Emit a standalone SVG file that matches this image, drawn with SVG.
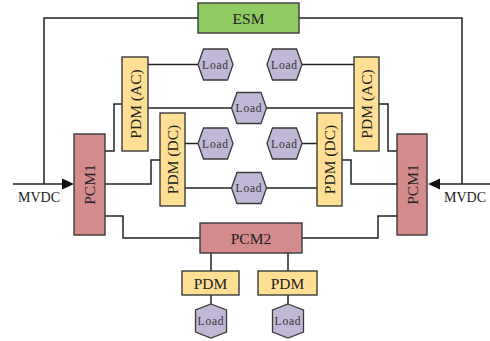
<svg xmlns="http://www.w3.org/2000/svg" width="490" height="341" viewBox="0 0 490 341">
  <defs>
    <style>
      .wire { fill: none; stroke: #222; stroke-width: 1.5; }
      .box { stroke: #3a3a3a; stroke-width: 1.4; }
      .esm { fill: #8fcb63; }
      .pcm { fill: #d48b8b; }
      .pdm { fill: #ffdf94; }
      .load { fill: #c1b7d7; stroke: #3a3a3a; stroke-width: 1.3; }
      .lbl { font-family: "Liberation Serif", "Times New Roman", serif; font-size: 15.5px; fill: #222; text-anchor: middle; dominant-baseline: central; }
      .lt { font-family: "Liberation Serif", "Times New Roman", serif; font-size: 11.5px; letter-spacing: 0.8px; fill: #333; text-anchor: middle; dominant-baseline: central; }
      .mv { font-family: "Liberation Serif", "Times New Roman", serif; font-size: 14px; fill: #222; text-anchor: middle; }
    </style>
    <!-- flat-sided load hexagon, pointing left/right -->
    <polygon id="hexH" points="-17.5,0 -12,-15.5 12,-15.5 17.5,0 12,15.5 -12,15.5"/>
    <!-- load hexagon standing on a point -->
    <polygon id="hexV" points="0,-17 15.5,-11 15.5,11 0,17 -15.5,11 -15.5,-11"/>
  </defs>

  <!-- connectors -->
  <g id="connectors">
    <polyline class="wire" points="198,18 44,18 44,184"/>
    <polyline class="wire" points="299,18 462,18 462,184"/>
    <line class="wire" x1="13" y1="184" x2="64" y2="184"/>
    <polygon points="74,184 62,178.5 62,189.5" fill="#111"/>
    <line class="wire" x1="490" y1="184" x2="438" y2="184"/>
    <polygon points="428,184 440,178.5 440,189.5" fill="#111"/>

    <!-- left PCM1 feeders -->
    <polyline class="wire" points="105,151 114,151 114,104 122,104"/>
    <polyline class="wire" points="105,184 151,184 151,160 160,160"/>
    <polyline class="wire" points="105,216 123,216 123,238 200,238"/>
    <!-- right PCM1 feeders -->
    <polyline class="wire" points="379,104 388,104 388,151 397,151"/>
    <polyline class="wire" points="342,160 351,160 351,184 397,184"/>
    <polyline class="wire" points="302,238 378,238 378,216 397,216"/>

    <!-- PDM to loads -->
    <line class="wire" x1="148" y1="64.5" x2="198" y2="64.5"/>
    <line class="wire" x1="148" y1="108" x2="354" y2="108"/>
    <line class="wire" x1="302" y1="64.5" x2="354" y2="64.5"/>
    <line class="wire" x1="185" y1="143.5" x2="198" y2="143.5"/>
    <line class="wire" x1="185" y1="188" x2="317" y2="188"/>
    <line class="wire" x1="302" y1="143.5" x2="317" y2="143.5"/>

    <!-- PCM2 branch -->
    <line class="wire" x1="211" y1="253" x2="211" y2="271"/>
    <line class="wire" x1="288" y1="253" x2="288" y2="271"/>
    <line class="wire" x1="211" y1="295" x2="211" y2="304"/>
    <line class="wire" x1="288" y1="295" x2="288" y2="304"/>
  </g>

  <g id="esm">
    <rect class="box esm" x="198" y="3" width="101" height="30"/>
    <text class="lbl" x="248.5" y="18">ESM</text>
  </g>

  <g id="pcm1-left">
    <rect class="box pcm" x="74" y="134" width="31" height="101"/>
    <text class="lbl" transform="translate(89.5,184.5) rotate(-90)">PCM1</text>
  </g>
  <g id="pcm1-right">
    <rect class="box pcm" x="397" y="134" width="30" height="101"/>
    <text class="lbl" transform="translate(412,184.5) rotate(-90)">PCM1</text>
  </g>
  <g id="pcm2">
    <rect class="box pcm" x="200" y="223" width="102" height="30"/>
    <text class="lbl" x="251" y="238">PCM2</text>
  </g>

  <g id="pdm-ac-left">
    <rect class="box pdm" x="122" y="57" width="26" height="94"/>
    <text class="lbl" transform="translate(135,104) rotate(-90)">PDM (AC)</text>
  </g>
  <g id="pdm-ac-right">
    <rect class="box pdm" x="354" y="57" width="25" height="94"/>
    <text class="lbl" transform="translate(366.5,104) rotate(-90)">PDM (AC)</text>
  </g>
  <g id="pdm-dc-left">
    <rect class="box pdm" x="160" y="113" width="25" height="93"/>
    <text class="lbl" transform="translate(172.5,159.5) rotate(-90)">PDM (DC)</text>
  </g>
  <g id="pdm-dc-right">
    <rect class="box pdm" x="317" y="113" width="25" height="93"/>
    <text class="lbl" transform="translate(329.5,159.5) rotate(-90)">PDM (DC)</text>
  </g>
  <g id="pdm-bottom-left">
    <rect class="box pdm" x="182" y="271" width="57" height="24"/>
    <text class="lbl" x="210.5" y="283">PDM</text>
  </g>
  <g id="pdm-bottom-right">
    <rect class="box pdm" x="258" y="271" width="59" height="24"/>
    <text class="lbl" x="287.5" y="283">PDM</text>
  </g>

  <g id="load-1">
    <use href="#hexH" class="load" x="215.5" y="64.5"/>
    <text class="lt" x="215.5" y="64.5">Load</text>
  </g>
  <g id="load-2">
    <use href="#hexH" class="load" x="284.5" y="64.5"/>
    <text class="lt" x="284.5" y="64.5">Load</text>
  </g>
  <g id="load-3">
    <use href="#hexH" class="load" x="249" y="108"/>
    <text class="lt" x="249" y="108">Load</text>
  </g>
  <g id="load-4">
    <use href="#hexH" class="load" x="215.5" y="143.5"/>
    <text class="lt" x="215.5" y="143.5">Load</text>
  </g>
  <g id="load-5">
    <use href="#hexH" class="load" x="284.5" y="143.5"/>
    <text class="lt" x="284.5" y="143.5">Load</text>
  </g>
  <g id="load-6">
    <use href="#hexH" class="load" x="249" y="188"/>
    <text class="lt" x="249" y="188">Load</text>
  </g>
  <g id="load-7">
    <use href="#hexV" class="load" x="211" y="321"/>
    <text class="lt" x="211" y="321">Load</text>
  </g>
  <g id="load-8">
    <use href="#hexV" class="load" x="288" y="321"/>
    <text class="lt" x="288" y="321">Load</text>
  </g>

  <g id="labels">
    <text class="mv" x="39" y="202">MVDC</text>
    <text class="mv" x="465" y="202">MVDC</text>
  </g>
</svg>
